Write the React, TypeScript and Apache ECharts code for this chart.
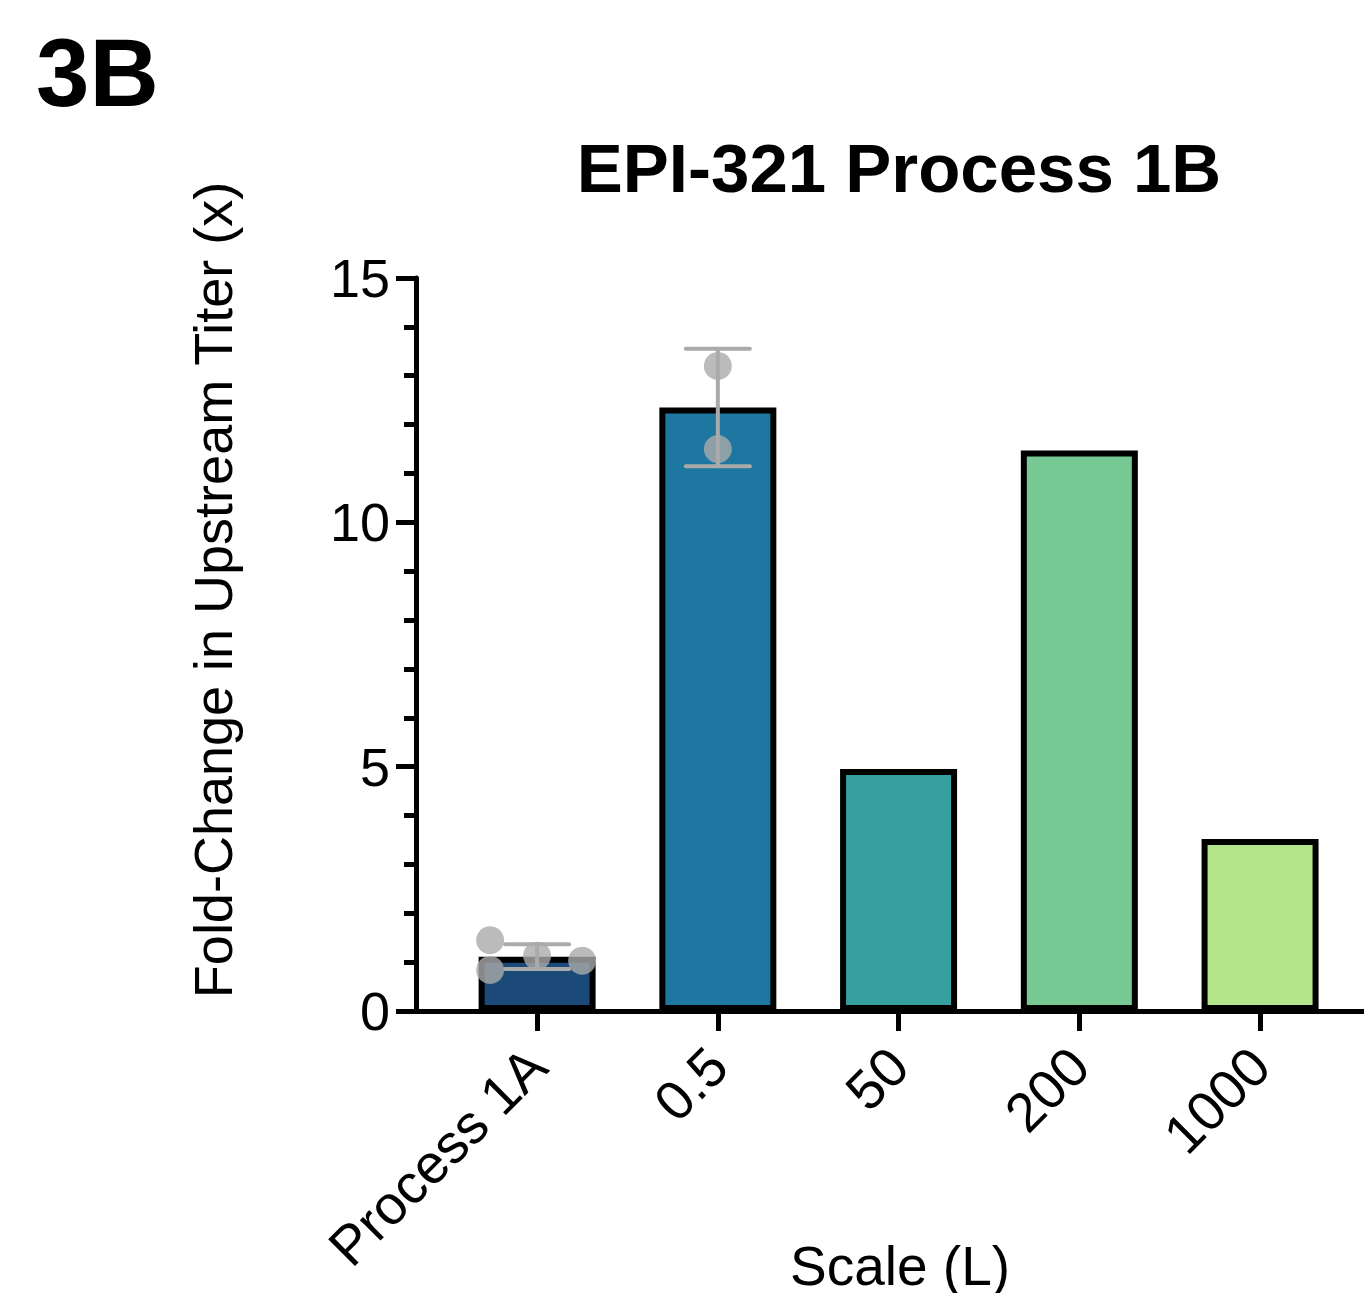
import React, { useEffect, useRef } from "react";
import * as echarts from "echarts";

const categories = ["Process 1A", "0.5", "50", "200", "1000"];
const barMeans = [1.11, 12.35, 4.95, 11.47, 3.52];
const barColors = ["#1b4a78", "#1d77a0", "#36a0a1", "#77c993", "#b4e58a"];
// replicate points per category
const dotGroups: number[][] = [[1.45, 0.84, 1.13, 1.03], [13.2, 11.5], [], [], []];
// horizontal jitter in px for each replicate dot
const dotJitter: number[][] = [[-47, -47, 0, 45], [0, 0], [], [], []];

const FONT = "'Liberation Sans', Arial, Helvetica, sans-serif";

function meanSd(arr: number[]) {
  const m = arr.reduce((a, b) => a + b, 0) / arr.length;
  const v = arr.reduce((a, b) => a + (b - m) * (b - m), 0) / (arr.length - 1);
  return [m, Math.sqrt(v)];
}

export default function App() {
  const ref = useRef<HTMLDivElement>(null);
  useEffect(() => {
    document.body.style.margin = "0";
    document.body.style.overflow = "hidden";
    const chart = echarts.init(ref.current!, undefined, { renderer: "svg" });

    const barData = categories.map((c, i) => ({
      value: [i, barMeans[i]],
      itemStyle: { color: barColors[i] },
    }));
    const dotData: any[] = [];
    dotGroups.forEach((g, i) =>
      g.forEach((v, j) => dotData.push({ value: [i, v], symbolOffset: [dotJitter[i][j], 0] }))
    );
    const errData: number[][] = [];
    dotGroups.forEach((g, i) => {
      if (g.length > 1) {
        const [m, s] = meanSd(g);
        errData.push([i, m, s]);
      }
    });

    const option: any = {
      animation: false,
      backgroundColor: "#ffffff",
      grid: { left: 416, right: 0, top: 278, bottom: 282, containLabel: false },
      xAxis: {
        type: "value",
        min: -0.67,
        max: 4.575,
        splitLine: { show: false },
        axisLine: { show: true, onZero: false, lineStyle: { color: "#000", width: 5 } },
        axisTick: { show: true, length: 20, lineStyle: { color: "#000", width: 5 }, customValues: [0, 1, 2, 3, 4] },
        axisLabel: {
          customValues: [0, 1, 2, 3, 4],
          formatter: (v: number) => categories[Math.round(v)],
          rotate: 45,
          margin: 46,
          fontSize: 55,
          fontFamily: FONT,
          color: "#000",
        },
      },
      yAxis: {
        type: "value",
        min: 0,
        max: 15,
        interval: 5,
        splitLine: { show: false },
        axisLine: { show: true, onZero: false, lineStyle: { color: "#000", width: 5 } },
        axisTick: { show: true, length: 20, lineStyle: { color: "#000", width: 5 } },
        minorTick: { show: true, splitNumber: 5, length: 12, lineStyle: { color: "#000", width: 5 } },
        axisLabel: { margin: 26, fontSize: 54, fontFamily: FONT, color: "#000" },
      },
      series: [
        {
          type: "bar",
          data: barData,
          barWidth: 117,
          itemStyle: { borderColor: "#000", borderWidth: 6 },
          z: 2,
        },
        {
          type: "custom",
          data: errData,
          z: 3,
          renderItem: (params: any, api: any) => {
            const x = api.value(0);
            const m = api.value(1);
            const s = api.value(2);
            const top = api.coord([x, m + s]);
            const bot = api.coord([x, m - s]);
            const cw = 32;
            const style = { stroke: "#aaaaaa", lineWidth: 4, lineCap: "round" };
            return {
              type: "group",
              children: [
                { type: "line", shape: { x1: top[0], y1: top[1], x2: bot[0], y2: bot[1] }, style },
                { type: "line", shape: { x1: top[0] - cw, y1: top[1], x2: top[0] + cw, y2: top[1] }, style },
                { type: "line", shape: { x1: bot[0] - cw, y1: bot[1], x2: bot[0] + cw, y2: bot[1] }, style },
              ],
            };
          },
        },
        {
          type: "scatter",
          data: dotData,
          symbol: "circle",
          symbolSize: 28,
          itemStyle: { color: "#aaaaaa" },
          z: 4,
        },
      ],
      graphic: [
        {
          type: "text",
          x: 36,
          y: 72,
          style: { text: "3B", fontSize: 96, fontWeight: "bold", fontFamily: FONT, fill: "#000", align: "left", verticalAlign: "middle" },
        },
        {
          type: "text",
          x: 899,
          y: 168,
          style: { text: "EPI-321 Process 1B", fontSize: 69, fontWeight: "bold", fontFamily: FONT, fill: "#000", align: "center", verticalAlign: "middle" },
        },
        {
          type: "text",
          x: 213,
          y: 590,
          rotation: Math.PI / 2,
          style: { text: "Fold-Change in Upstream Titer (x)", fontSize: 54, fontFamily: FONT, fill: "#000", align: "center", verticalAlign: "middle" },
        },
        {
          type: "text",
          x: 900,
          y: 1266,
          style: { text: "Scale (L)", fontSize: 55, fontFamily: FONT, fill: "#000", align: "center", verticalAlign: "middle" },
        },
      ],
    };
    chart.setOption(option);
    return () => chart.dispose();
  }, []);
  return <div ref={ref} style={{ width: 1364, height: 1293 }} />;
}
